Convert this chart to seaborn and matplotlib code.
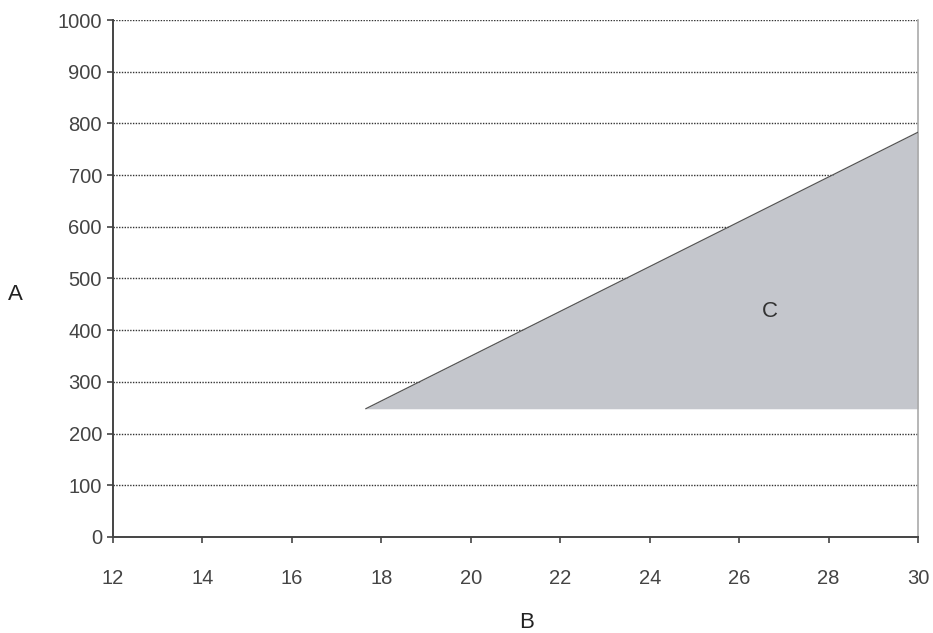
import numpy as np
import pandas as pd
import seaborn as sns
import matplotlib.pyplot as plt

# Data
region_x = [17.65, 30]
region_top = [248, 783]
region_bottom = [248, 248]
x_ticks = [12, 14, 16, 18, 20, 22, 24, 26, 28, 30]
y_ticks = [0, 100, 200, 300, 400, 500, 600, 700, 800, 900, 1000]

sns.set_style("white")
plt.rcParams['font.family'] = ['Liberation Sans', 'DejaVu Sans']

fig = plt.figure(figsize=(9.33, 6.33), dpi=100)
ax = fig.add_axes([0.1211, 0.1517, 0.8629, 0.8167])

# grid lines
for y in y_ticks[1:]:
    ax.axhline(y, color="#333333", lw=1.0, ls=(0, (1, 1)), zorder=1)

df = pd.DataFrame({"B": region_x, "A": region_top})
ax.fill_between(region_x, region_bottom, region_top, color="#c4c6cc", lw=0, zorder=2)
sns.lineplot(data=df, x="B", y="A", color="#555555", lw=0.9, ax=ax, zorder=3)

ax.text(26.69, 437, "C", ha="center", va="center", fontsize=16, color="#333333")

ax.set_xlim(12, 30)
ax.set_ylim(0, 1000)
ax.set_xticks(x_ticks)
ax.set_yticks(y_ticks)
ax.set_xlabel("")
ax.set_ylabel("")
ax.tick_params(axis="both", direction="out", length=4, width=1.2, color="#444444",
               labelsize=14.5, labelcolor="#444444")
ax.tick_params(axis="y", pad=4)
ax.tick_params(axis="x", pad=19)
ax.tick_params(axis="both", which="both", bottom=True, left=True)

ax.spines["top"].set_visible(False)
ax.spines["left"].set_color("#444444")
ax.spines["left"].set_linewidth(1.4)
ax.spines["bottom"].set_color("#444444")
ax.spines["bottom"].set_linewidth(1.4)
ax.spines["right"].set_color("#aaaaaa")
ax.spines["right"].set_linewidth(1.2)

fig.text(15 / 933, 1 - 295 / 633, "A", ha="center", va="center", fontsize=16, color="#222222")
fig.text(527 / 933, 1 - 622 / 633, "B", ha="center", va="center", fontsize=16, color="#222222")

fig.savefig("out.png", dpi=100)
